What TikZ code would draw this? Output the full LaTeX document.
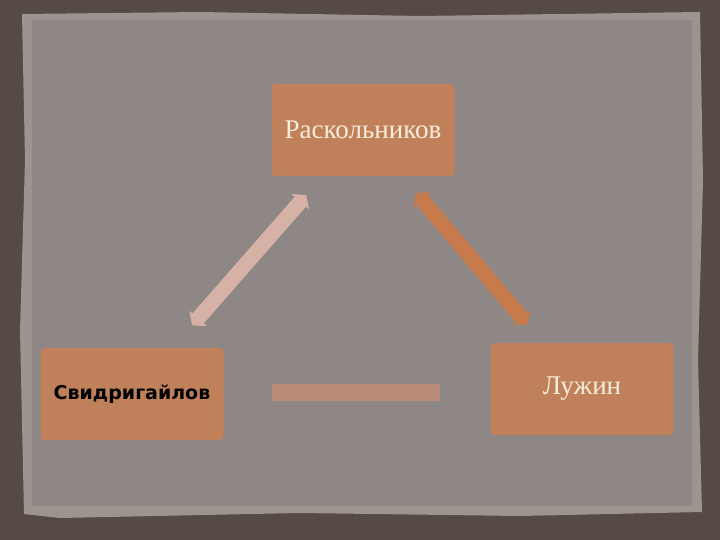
\documentclass[tikz,border=0pt]{standalone}
\usepackage{fontspec}
\setmainfont{Liberation Serif}
\newfontfamily\boldsans{DejaVu Sans}
\usetikzlibrary{arrows.meta}
\definecolor{frame}{HTML}{554A45}
\definecolor{paper}{HTML}{8E8785}
\definecolor{paperrim}{HTML}{9C958F}
\definecolor{boxfill}{HTML}{C0805A}
\definecolor{cream}{HTML}{F6EDDC}
\definecolor{pinkarrow}{HTML}{D6B2A6}
\definecolor{rustarrow}{HTML}{C77A4C}
\definecolor{fadearrow}{HTML}{C68F76}
\tikzset{
  hero/.style={fill=boxfill, rounded corners=4pt, minimum width=183pt, minimum height=92pt, inner sep=0pt},
  link/.style={line width=15pt, {Triangle[length=9pt,width=23pt]}-{Triangle[length=9pt,width=23pt]}}
}
\begin{document}
\begin{tikzpicture}[x=1pt,y=-1pt]
      \useasboundingbox (0,0) rectangle (720,540);
      \fill[frame] (0,0) rectangle (720,540);
      \fill[paperrim] (22,14) -- (200,12) -- (420,16) -- (700,12) -- (703,180) -- (698,360) -- (702,512)
        -- (520,516) -- (300,513) -- (60,518) -- (24,514) -- (20,330) -- (25,160) -- cycle;
      \fill[paper] (32,20) rectangle (692,506);
      \node[hero] (rask) at (363,130) {\color{cream}\fontsize{27}{30}\selectfont Раскольников};
      \node[hero] (svid) at (132,394) {\boldsans\bfseries\fontsize{19}{22}\selectfont Свидригайлов};
      \node[hero] (luzh) at (582,389) {\color{cream}\fontsize{27}{30}\selectfont Лужин};
      \draw[link, pinkarrow, shorten <=25pt, shorten >=30pt] (rask) -- (svid);
      \draw[link, rustarrow, shorten <=22pt, shorten >=24pt] (rask) -- (luzh);
      \draw[fadearrow, opacity=0.8, line width=17pt, shorten <=48pt, shorten >=50pt] ([yshift=2pt]svid.east) -- ([yshift=2pt]svid.east -| luzh.west);
    \end{tikzpicture}
\end{document}
